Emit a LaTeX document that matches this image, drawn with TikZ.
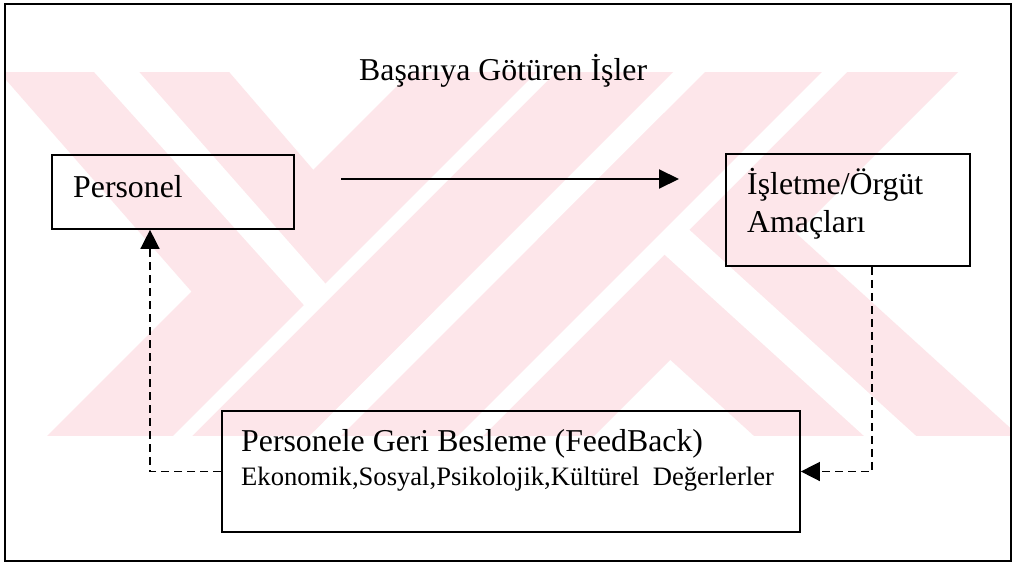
\documentclass[tikz,border=0pt]{standalone}
\usepackage{fontspec}
\setmainfont{Liberation Serif}
\usetikzlibrary{arrows.meta}
\definecolor{wmpink}{RGB}{253,230,234}
\begin{document}
\begin{tikzpicture}[x=1pt,y=-1pt,
  box/.style={draw=black, line width=1.7pt, rectangle, inner sep=0pt},
  txt/.style={inner sep=0pt, anchor=base west, font=\fontsize{31.8}{38}\selectfont},
  smalltxt/.style={inner sep=0pt, anchor=base west, font=\fontsize{26.6}{32}\selectfont},
  solidarrow/.style={line width=2pt, -{Triangle[length=20pt,width=19pt]}},
  fbarrow/.style={line width=1.5pt, dash pattern=on 8pt off 5pt, -{Triangle[length=19pt,width=19pt]}}
]
\useasboundingbox (0,0) rectangle (1014,564);
\fill[white] (0,0) rectangle (1014,564);

% faint striped emblem behind the diagram
\begin{scope}
  \clip (6,73) rectangle (1010,435);
  \fill[wmpink] (-11.4,60) -- (218.8,60) -- (434.3,310.6) -- (313.8,431.2) -- cycle;
  \fill[wmpink] (423,60) -- (685,60) -- (295,450) -- (33,450) -- cycle;
  \fill[wmpink] (717,60) -- (970,60) -- (580,450) -- (327,450) -- cycle;
  \fill[wmpink] (663.9,113.1) -- (1034.5,450) -- (769.5,450) -- (537.7,239.3) -- cycle;
  \fill[white] (549,60) -- (568,60) -- (178,450) -- (159,450) -- cycle;
  \fill[white] (83.3,60) -- (128.6,60) -- (329.6,288.4) -- (308.2,309.8) -- cycle;
  \fill[white] (834,60) -- (859,60) -- (469,450) -- (444,450) -- cycle;
  \fill[white] (879.5,450) -- (931.5,450) -- (682.7,223.8) -- (657.9,248.6) -- cycle;
\end{scope}

% outer frame
\draw[line width=1.8pt] (5,4) rectangle (1011,561);

% boxes
\node[box, minimum width=242pt, minimum height=74pt] (per) at (173,192) {};
\node[box, minimum width=244pt, minimum height=112pt] (amac) at (848,210) {};
\node[box, minimum width=578pt, minimum height=121pt] (fb) at (511,471.5) {};

% texts
\node[txt] (title) at (359,81) {Başarıya Götüren İşler};
\node[txt] (perT) at (73,197) {Personel};
\node[txt] (amacT1) at (747,194) {İşletme/Örgüt};
\node[txt] (amacT2) at (747,232) {Amaçları};
\node[txt] (fbT1) at (241,451) {Personele Geri Besleme (FeedBack)};
\node[smalltxt] (fbT2) at (241,485) {Ekonomik,Sosyal,Psikolojik,Kültürel\ \ Değerlerler};

% connectors
\coordinate (h1) at (341,179);
\coordinate (h2) at (679,179);
\draw[solidarrow] (h1) -- (h2);
\draw[fbarrow] (fb.west) -| ([xshift=-23pt]per.south);
\draw[fbarrow] ([xshift=24pt]amac.south) |- (fb.east);
\end{tikzpicture}
\end{document}
